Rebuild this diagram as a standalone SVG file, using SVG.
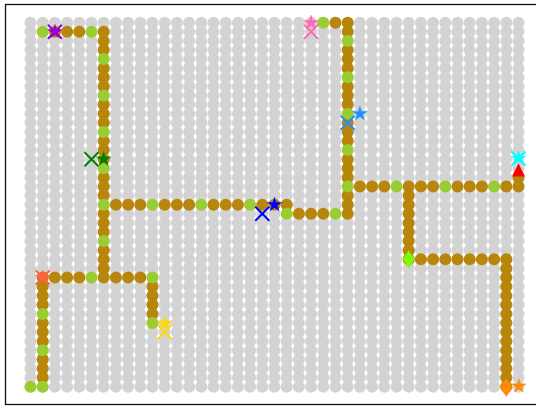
<svg xmlns="http://www.w3.org/2000/svg" xmlns:xlink="http://www.w3.org/1999/xlink" width="536" height="406" viewBox="0 0 536 406">
<style>
.gr{fill:#d3d3d3}
.p{fill:#b8860b}
.q{fill:#9acd32}
.x{fill:none;stroke-width:2}
</style>
<defs>
<g id="row" class="gr">
<circle cx="30.5" cy="0" r="6"/><circle cx="42.7" cy="0" r="6"/><circle cx="54.9" cy="0" r="6"/><circle cx="67.1" cy="0" r="6"/><circle cx="79.3" cy="0" r="6"/><circle cx="91.5" cy="0" r="6"/><circle cx="103.7" cy="0" r="6"/><circle cx="115.9" cy="0" r="6"/><circle cx="128.1" cy="0" r="6"/><circle cx="140.3" cy="0" r="6"/><circle cx="152.5" cy="0" r="6"/><circle cx="164.7" cy="0" r="6"/><circle cx="176.9" cy="0" r="6"/><circle cx="189.1" cy="0" r="6"/><circle cx="201.3" cy="0" r="6"/><circle cx="213.5" cy="0" r="6"/><circle cx="225.7" cy="0" r="6"/><circle cx="237.9" cy="0" r="6"/><circle cx="250.1" cy="0" r="6"/><circle cx="262.3" cy="0" r="6"/><circle cx="274.5" cy="0" r="6"/><circle cx="286.7" cy="0" r="6"/><circle cx="298.9" cy="0" r="6"/><circle cx="311.1" cy="0" r="6"/><circle cx="323.3" cy="0" r="6"/><circle cx="335.5" cy="0" r="6"/><circle cx="347.7" cy="0" r="6"/><circle cx="359.9" cy="0" r="6"/><circle cx="372.1" cy="0" r="6"/><circle cx="384.3" cy="0" r="6"/><circle cx="396.5" cy="0" r="6"/><circle cx="408.7" cy="0" r="6"/><circle cx="420.9" cy="0" r="6"/><circle cx="433.1" cy="0" r="6"/><circle cx="445.3" cy="0" r="6"/><circle cx="457.5" cy="0" r="6"/><circle cx="469.7" cy="0" r="6"/><circle cx="481.9" cy="0" r="6"/><circle cx="494.1" cy="0" r="6"/><circle cx="506.3" cy="0" r="6"/><circle cx="518.5" cy="0" r="6"/>
</g>
<path id="star" d="M0,-7.5L1.684,-2.318L7.133,-2.318L2.725,0.885L4.408,6.068L0,2.865L-4.408,6.068L-2.725,0.885L-7.133,-2.318L-1.684,-2.318Z"/>
<path id="xm" d="M-7,-7L7,7M-7,7L7,-7"/>
<path id="dm" d="M0,-9L6,0L0,9L-6,0Z"/>
</defs>
<rect x="0" y="0" width="536" height="406" fill="#fff"/>
<rect x="5.5" y="4.5" width="600" height="400" fill="none" stroke="#111" stroke-width="1.3"/>
<g id="grid">
<use href="#row" y="22.7"/><use href="#row" y="31.8"/><use href="#row" y="40.9"/><use href="#row" y="50"/><use href="#row" y="59.1"/><use href="#row" y="68.2"/><use href="#row" y="77.3"/><use href="#row" y="86.4"/><use href="#row" y="95.5"/><use href="#row" y="104.6"/><use href="#row" y="113.7"/><use href="#row" y="122.8"/><use href="#row" y="131.9"/><use href="#row" y="141"/><use href="#row" y="150.1"/><use href="#row" y="159.2"/><use href="#row" y="168.3"/><use href="#row" y="177.4"/><use href="#row" y="186.5"/><use href="#row" y="195.6"/><use href="#row" y="204.7"/><use href="#row" y="213.8"/><use href="#row" y="222.9"/><use href="#row" y="232"/><use href="#row" y="241.1"/><use href="#row" y="250.2"/><use href="#row" y="259.3"/><use href="#row" y="268.4"/><use href="#row" y="277.5"/><use href="#row" y="286.6"/><use href="#row" y="295.7"/><use href="#row" y="304.8"/><use href="#row" y="313.9"/><use href="#row" y="323"/><use href="#row" y="332.1"/><use href="#row" y="341.2"/><use href="#row" y="350.3"/><use href="#row" y="359.4"/><use href="#row" y="368.5"/><use href="#row" y="377.6"/><use href="#row" y="386.7"/>
</g>
<g id="path-gold" class="p">
<circle cx="54.9" cy="31.8" r="6"/><circle cx="67.1" cy="31.8" r="6"/><circle cx="79.3" cy="31.8" r="6"/><circle cx="103.7" cy="31.8" r="6"/>
<circle cx="103.7" cy="40.9" r="6"/><circle cx="103.7" cy="50" r="6"/><circle cx="103.7" cy="68.2" r="6"/><circle cx="103.7" cy="77.3" r="6"/><circle cx="103.7" cy="86.4" r="6"/><circle cx="103.7" cy="104.6" r="6"/><circle cx="103.7" cy="113.7" r="6"/><circle cx="103.7" cy="122.8" r="6"/><circle cx="103.7" cy="141" r="6"/><circle cx="103.7" cy="150.1" r="6"/><circle cx="103.7" cy="159.2" r="6"/><circle cx="103.7" cy="177.4" r="6"/><circle cx="103.7" cy="186.5" r="6"/><circle cx="103.7" cy="195.6" r="6"/><circle cx="103.7" cy="213.8" r="6"/><circle cx="103.7" cy="222.9" r="6"/><circle cx="103.7" cy="232" r="6"/><circle cx="103.7" cy="250.2" r="6"/><circle cx="103.7" cy="259.3" r="6"/><circle cx="103.7" cy="268.4" r="6"/><circle cx="103.7" cy="277.5" r="6"/>
<circle cx="115.9" cy="204.7" r="6"/><circle cx="128.1" cy="204.7" r="6"/><circle cx="140.3" cy="204.7" r="6"/><circle cx="164.7" cy="204.7" r="6"/><circle cx="176.9" cy="204.7" r="6"/><circle cx="189.1" cy="204.7" r="6"/><circle cx="213.5" cy="204.7" r="6"/><circle cx="225.7" cy="204.7" r="6"/><circle cx="237.9" cy="204.7" r="6"/><circle cx="262.3" cy="204.7" r="6"/><circle cx="274.5" cy="204.7" r="6"/><circle cx="286.7" cy="204.7" r="6"/>
<circle cx="298.9" cy="213.8" r="6"/><circle cx="311.1" cy="213.8" r="6"/><circle cx="323.3" cy="213.8" r="6"/><circle cx="347.7" cy="213.8" r="6"/>
<circle cx="347.7" cy="22.7" r="6"/><circle cx="347.7" cy="31.8" r="6"/><circle cx="347.7" cy="50" r="6"/><circle cx="347.7" cy="59.1" r="6"/><circle cx="347.7" cy="68.2" r="6"/><circle cx="347.7" cy="86.4" r="6"/><circle cx="347.7" cy="95.5" r="6"/><circle cx="347.7" cy="104.6" r="6"/><circle cx="347.7" cy="122.8" r="6"/><circle cx="347.7" cy="131.9" r="6"/><circle cx="347.7" cy="141" r="6"/><circle cx="347.7" cy="159.2" r="6"/><circle cx="347.7" cy="168.3" r="6"/><circle cx="347.7" cy="177.4" r="6"/><circle cx="347.7" cy="195.6" r="6"/><circle cx="347.7" cy="204.7" r="6"/>
<circle cx="335.5" cy="22.7" r="6"/>
<circle cx="359.9" cy="186.5" r="6"/><circle cx="372.1" cy="186.5" r="6"/><circle cx="384.3" cy="186.5" r="6"/><circle cx="408.7" cy="186.5" r="6"/><circle cx="420.9" cy="186.5" r="6"/><circle cx="433.1" cy="186.5" r="6"/><circle cx="457.5" cy="186.5" r="6"/><circle cx="469.7" cy="186.5" r="6"/><circle cx="481.9" cy="186.5" r="6"/><circle cx="506.3" cy="186.5" r="6"/><circle cx="518.5" cy="186.5" r="6"/>
<circle cx="518.5" cy="177.4" r="6"/>
<circle cx="408.7" cy="195.6" r="6"/><circle cx="408.7" cy="204.7" r="6"/><circle cx="408.7" cy="213.8" r="6"/><circle cx="408.7" cy="222.9" r="6"/><circle cx="408.7" cy="232" r="6"/><circle cx="408.7" cy="241.1" r="6"/><circle cx="408.7" cy="250.2" r="6"/><circle cx="408.7" cy="259.3" r="6"/>
<circle cx="420.9" cy="259.3" r="6"/><circle cx="433.1" cy="259.3" r="6"/><circle cx="445.3" cy="259.3" r="6"/><circle cx="457.5" cy="259.3" r="6"/><circle cx="469.7" cy="259.3" r="6"/><circle cx="481.9" cy="259.3" r="6"/><circle cx="494.1" cy="259.3" r="6"/><circle cx="506.3" cy="259.3" r="6"/>
<circle cx="506.3" cy="268.4" r="6"/><circle cx="506.3" cy="277.5" r="6"/><circle cx="506.3" cy="286.6" r="6"/><circle cx="506.3" cy="295.7" r="6"/><circle cx="506.3" cy="304.8" r="6"/><circle cx="506.3" cy="313.9" r="6"/><circle cx="506.3" cy="323" r="6"/><circle cx="506.3" cy="332.1" r="6"/><circle cx="506.3" cy="341.2" r="6"/><circle cx="506.3" cy="350.3" r="6"/><circle cx="506.3" cy="359.4" r="6"/><circle cx="506.3" cy="368.5" r="6"/><circle cx="506.3" cy="377.6" r="6"/><circle cx="506.3" cy="386.7" r="6"/>
<circle cx="42.7" cy="277.5" r="6"/><circle cx="54.9" cy="277.5" r="6"/><circle cx="67.1" cy="277.5" r="6"/><circle cx="79.3" cy="277.5" r="6"/><circle cx="115.9" cy="277.5" r="6"/><circle cx="128.1" cy="277.5" r="6"/><circle cx="140.3" cy="277.5" r="6"/>
<circle cx="152.5" cy="286.6" r="6"/><circle cx="152.5" cy="295.7" r="6"/><circle cx="152.5" cy="304.8" r="6"/><circle cx="152.5" cy="313.9" r="6"/>
<circle cx="42.7" cy="286.6" r="6"/><circle cx="42.7" cy="295.7" r="6"/><circle cx="42.7" cy="304.8" r="6"/><circle cx="42.7" cy="323" r="6"/><circle cx="42.7" cy="332.1" r="6"/><circle cx="42.7" cy="341.2" r="6"/><circle cx="42.7" cy="359.4" r="6"/><circle cx="42.7" cy="368.5" r="6"/><circle cx="42.7" cy="377.6" r="6"/>
</g>
<g id="path-green" class="q">
<circle cx="42.7" cy="31.8" r="6"/><circle cx="91.5" cy="31.8" r="6"/>
<circle cx="103.7" cy="59.1" r="6"/><circle cx="103.7" cy="95.5" r="6"/><circle cx="103.7" cy="131.9" r="6"/><circle cx="103.7" cy="168.3" r="6"/><circle cx="103.7" cy="204.7" r="6"/><circle cx="103.7" cy="241.1" r="6"/>
<circle cx="152.5" cy="204.7" r="6"/><circle cx="201.3" cy="204.7" r="6"/><circle cx="250.1" cy="204.7" r="6"/>
<circle cx="286.7" cy="213.8" r="6"/><circle cx="335.5" cy="213.8" r="6"/>
<circle cx="347.7" cy="40.9" r="6"/><circle cx="347.7" cy="77.3" r="6"/><circle cx="347.7" cy="113.7" r="6"/><circle cx="347.7" cy="150.1" r="6"/><circle cx="347.7" cy="186.5" r="6"/>
<circle cx="323.3" cy="22.7" r="6"/>
<circle cx="396.5" cy="186.5" r="6"/><circle cx="445.3" cy="186.5" r="6"/><circle cx="494.1" cy="186.5" r="6"/>
<circle cx="91.5" cy="277.5" r="6"/><circle cx="152.5" cy="277.5" r="6"/><circle cx="152.5" cy="323" r="6"/>
<circle cx="42.7" cy="313.9" r="6"/><circle cx="42.7" cy="350.3" r="6"/><circle cx="42.7" cy="386.7" r="6"/><circle cx="30.5" cy="386.7" r="6"/>
</g>
<g id="markers">
<g id="purple" fill="#9400d3" stroke="#9400d3"><use href="#xm" class="x" x="54.9" y="31.8"/><use href="#star" x="54.9" y="31.8" stroke-width="0.5"/></g>
<g id="pink" fill="#ff69b4" stroke="#ff69b4"><use href="#xm" class="x" x="311.1" y="31.8"/><use href="#star" x="311.1" y="22.7" stroke-width="0.5"/></g>
<g id="dodger" fill="#1e90ff" stroke="#1e90ff"><use href="#xm" class="x" x="347.7" y="122.8"/><use href="#star" x="359.9" y="113.7" stroke-width="0.5"/></g>
<g id="green" fill="#008000" stroke="#008000"><use href="#xm" class="x" x="91.5" y="159.2"/><use href="#star" x="103.7" y="159.2" stroke-width="0.5"/></g>
<g id="blue" fill="#0000ff" stroke="#0000ff"><use href="#xm" class="x" x="262.3" y="213.8"/><use href="#star" x="274.5" y="204.7" stroke-width="0.5"/></g>
<g id="cyan" fill="#00ffff" stroke="#00ffff"><use href="#xm" class="x" x="518.5" y="158.5"/><use href="#star" x="518.5" y="158.5" stroke-width="0.5"/></g>
<g id="tomato" fill="#ff6347" stroke="#ff6347"><use href="#xm" class="x" x="42.7" y="277.5"/><use href="#star" x="42.7" y="277.5" stroke-width="0.5"/></g>
<g id="gold" fill="#ffd700" stroke="#ffd700"><use href="#xm" class="x" x="164.7" y="332.1"/><use href="#star" x="164.7" y="323.5" stroke-width="0.5"/></g>
<g id="lime"><use href="#dm" x="408.7" y="259.3" fill="#7cfc00"/></g>
<g id="red"><polygon points="518.5,163.3 512,176.5 525,176.5" fill="#ff0000"/></g>
<g id="orange" fill="#ff8c00" stroke="#ff8c00"><use href="#dm" x="506.3" y="387.5" stroke-width="0.5"/><use href="#star" x="518.9" y="386.2" stroke-width="0.5"/></g>
</g>
</svg>
